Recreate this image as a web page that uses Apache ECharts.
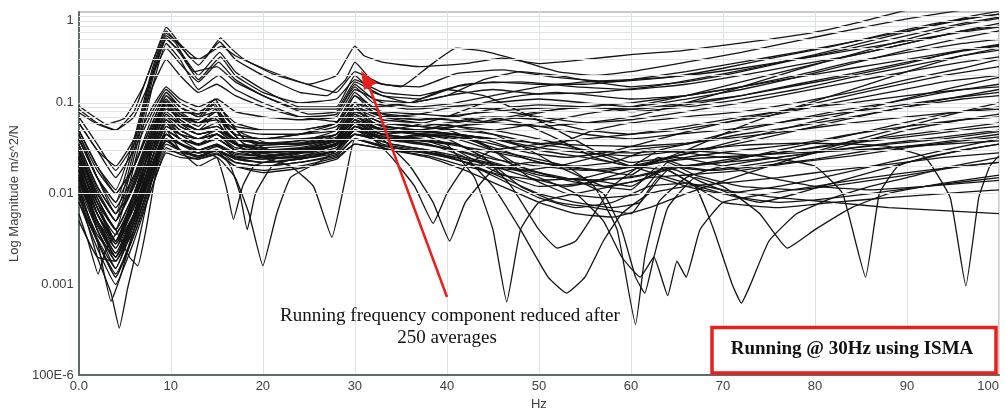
<!DOCTYPE html>
<html>
<head>
<meta charset="utf-8">
<title>FRF overlay - running @ 30Hz</title>
<script src="https://cdn.jsdelivr.net/npm/echarts@6/dist/echarts.min.js"></script>
<style>
  html, body { margin: 0; padding: 0; background: #fff; }
  #chart { width: 1005px; height: 416px; }
</style>
</head>
<body>
<div id="chart"></div>
<script>
// axis ticks
const xTickLabels = ['0.0', '10', '20', '30', '40', '50', '60', '70', '80', '90', '100'];
const yTickValues = [1e-4, 1e-3, 1e-2, 1e-1, 1];
const yTickLabels = ['100E-6', '0.001', '0.01', '0.1', '1'];
// light horizontal grid (1..9 per decade)
const yGridLines = [
  2e-4, 3e-4, 4e-4, 5e-4, 6e-4, 7e-4, 8e-4, 9e-4, 1e-3,
  2e-3, 3e-3, 4e-3, 5e-3, 6e-3, 7e-3, 8e-3, 9e-3, 1e-2,
  2e-2, 3e-2, 4e-2, 5e-2, 6e-2, 7e-2, 8e-2, 9e-2, 1e-1,
  0.2, 0.3, 0.4, 0.5, 0.6, 0.7, 0.8, 0.9
];

// FRF curves: [Hz, magnitude]
// top group (big peaks at 9.5 / 15 / 30 Hz)
const frf01 = [[0,.092],[1.5,.072],[3,.058],[5,.068],[7,.15],[8.5,.38],[9.5,.68],[10.5,.52],[12,.32],[13.5,.3],[15.4,.52],[16.5,.4],[18,.3],[21,.21],[25,.16],[28,.2],[30,.42],[31,.33],[33,.28],[37,.25],[42,.27],[46,.31],[50,.27],[55,.3],[60,.34],[65,.37],[70,.43],[75,.5],[80,.6],[85,.78],[90,1.05],[95,1.2],[100,1.3]];
const frf02 = [[0,.078],[2,.058],[4,.05],[6,.08],[8,.28],[9.5,.62],[11,.42],[13,.26],[15.3,.47],[17,.3],[20,.2],[24,.13],[27,.12],[29,.18],[30,.28],[32,.17],[35,.15],[38,.25],[41,.4],[44,.37],[48,.29],[52,.22],[56,.2],[60,.22],[66,.28],[72,.36],[78,.48],[84,.64],[90,.84],[96,1.05],[100,1.2]];
const frf03 = [[0,.05],[2,.02],[4,.011],[6,.04],[8,.24],[9.5,.58],[11,.44],[13,.3],[15.5,.42],[17,.33],[20,.24],[24,.17],[28,.13],[30,.22],[33,.16],[37,.15],[41,.21],[46,.23],[52,.19],[58,.17],[64,.19],[70,.24],[76,.32],[82,.42],[88,.58],[94,.78],[100,.95]];
const frf04 = [[0,.035],[2,.012],[4,.006],[6,.03],[8,.2],[9.5,.5],[11,.37],[13,.2],[15.3,.36],[17,.22],[20,.14],[24,.09],[28,.09],[30,.2],[32,.13],[36,.1],[40,.12],[45,.14],[50,.125],[56,.13],[62,.15],[68,.19],[74,.25],[80,.34],[86,.48],[92,.68],[97,.9],[100,1.02]];
const frf05 = [[0,.04],[2,.015],[4,.008],[6,.035],[8,.22],[9.5,.55],[10.5,.46],[12.5,.22],[15,.25],[17,.17],[20,.12],[25,.075],[28,.08],[30,.15],[32,.1],[36,.085],[40,.09],[45,.1],[50,.11],[55,.1],[60,.09],[66,.11],[72,.14],[78,.19],[84,.27],[90,.38],[96,.52],[100,.62]];
const frf06 = [[0,.03],[2,.009],[4,.004],[6,.02],[8,.15],[9.5,.45],[11,.3],[13,.14],[15.2,.2],[17,.14],[20,.1],[24,.07],[28,.062],[30,.12],[33,.075],[37,.065],[42,.075],[48,.085],[54,.09],[60,.085],[66,.1],[72,.12],[78,.155],[84,.2],[90,.27],[95,.36],[100,.44]];
const frf07 = [[0,.028],[2,.01],[4,.005],[6,.025],[8,.18],[9.5,.52],[11,.35],[13,.18],[15.4,.32],[17,.2],[20,.13],[24,.1],[28,.11],[30,.18],[33,.13],[37,.12],[42,.16],[48,.17],[54,.15],[60,.14],[66,.16],[72,.2],[78,.26],[84,.33],[90,.45],[96,.62],[100,.75]];
const frf08 = [[0,.06],[2,.03],[4,.02],[6,.04],[8,.15],[9.5,.3],[11,.2],[13,.13],[15,.16],[17,.12],[20,.09],[24,.07],[28,.075],[30,.16],[32,.11],[36,.1],[40,.12],[44,.18],[48,.22],[52,.2],[56,.17],[60,.15],[66,.17],[72,.22],[78,.3],[84,.4],[90,.55],[96,.75],[100,.88]];
const frf52 = [[0,.085],[2,.06],[4,.05],[6,.07],[8,.2],[9.5,.4],[11,.27],[13,.17],[15.2,.28],[17,.18],[20,.12],[24,.085],[28,.085],[30,.17],[33,.12],[37,.11],[41,.15],[45,.17],[50,.16],[55,.16],[60,.18],[66,.22],[72,.28],[78,.36],[84,.47],[90,.62],[96,.82],[100,.95]];
// middle group (peaks ~0.1, sharp 15 Hz spike)
const frf09 = [[0,.025],[2,.006],[4,.0025],[6,.008],[8,.04],[9.5,.12],[11,.09],[13,.07],[14.7,.1],[16,.06],[18,.045],[21,.035],[25,.035],[28,.045],[30,.1],[32,.06],[36,.05],[40,.045],[44,.04],[48,.03],[52,.035],[56,.05],[60,.06],[66,.07],[72,.08],[78,.1],[84,.13],[90,.18],[96,.24],[100,.3]];
const frf10 = [[0,.02],[2,.005],[4,.002],[6,.006],[8,.035],[9.5,.1],[11,.08],[13,.075],[14.8,.11],[16,.07],[18,.04],[21,.03],[25,.032],[28,.04],[30,.09],[32,.055],[36,.048],[40,.05],[44,.035],[48,.02],[52,.015],[56,.014],[60,.012],[64,.02],[68,.018],[72,.02],[78,.025],[84,.035],[90,.05],[96,.065],[100,.075]];
const frf11 = [[0,.015],[2,.004],[4,.0015],[6,.005],[8,.03],[9.5,.085],[11,.07],[13,.065],[14.6,.095],[16,.055],[18,.035],[21,.03],[25,.028],[28,.035],[30,.075],[32,.05],[36,.046],[40,.04],[44,.025],[48,.012],[52,.008],[56,.007],[60,.006],[63,.015],[66,.012],[70,.01],[76,.012],[82,.016],[88,.022],[94,.03],[100,.04]];
const frf12 = [[0,.045],[2,.015],[4,.006],[6,.012],[8,.05],[9.5,.11],[11,.075],[13,.06],[15,.08],[16.5,.05],[18,.035],[20,.03],[24,.032],[28,.04],[30,.07],[33,.05],[36,.055],[40,.07],[44,.1],[48,.12],[52,.13],[56,.12],[60,.11],[66,.12],[72,.15],[78,.2],[84,.28],[90,.36],[96,.45],[100,.5]];
const frf13 = [[0,.03],[2,.008],[4,.003],[6,.01],[8,.045],[9.5,.095],[11,.07],[13,.055],[14.8,.085],[16,.05],[18,.03],[21,.027],[25,.03],[28,.036],[30,.06],[33,.045],[37,.05],[41,.06],[45,.07],[50,.065],[55,.05],[60,.045],[65,.05],[70,.06],[76,.075],[82,.1],[88,.13],[94,.17],[100,.2]];
const frf14 = [[0,.012],[2,.003],[4,.0012],[6,.004],[8,.025],[9.5,.07],[11,.06],[13,.05],[14.7,.07],[16,.045],[18,.03],[21,.025],[25,.025],[28,.03],[30,.065],[32,.045],[36,.04],[40,.035],[44,.03],[48,.025],[52,.02],[56,.018],[60,.016],[63,.025],[66,.02],[70,.022],[76,.03],[82,.04],[88,.055],[94,.075],[100,.09]];
const frf15 = [[0,.06],[2,.03],[4,.015],[6,.03],[8,.08],[9.5,.14],[11,.1],[13,.08],[15,.1],[16.5,.06],[18,.04],[21,.035],[25,.04],[28,.05],[30,.12],[32,.08],[36,.07],[40,.065],[44,.06],[48,.07],[52,.085],[56,.09],[60,.08],[66,.09],[72,.11],[78,.14],[84,.19],[90,.25],[96,.33],[100,.38]];
const frf16 = [[0,.022],[2,.007],[4,.003],[6,.009],[8,.04],[9.5,.09],[11,.065],[13,.05],[15,.06],[17,.035],[20,.025],[24,.024],[28,.03],[30,.055],[33,.04],[37,.042],[41,.045],[45,.03],[49,.015],[53,.01],[57,.009],[61,.01],[64,.022],[67,.016],[72,.012],[78,.011],[84,.013],[90,.016],[96,.02],[100,.022]];
// low band
const frf17 = [[0,.018],[2,.004],[4,.0018],[6,.004],[8,.015],[9.5,.04],[11,.035],[13,.03],[15,.035],[17,.025],[20,.022],[24,.024],[28,.03],[30,.05],[33,.04],[37,.038],[41,.035],[45,.025],[49,.018],[53,.014],[57,.012],[61,.014],[65,.02],[69,.018],[74,.02],[80,.024],[86,.03],[92,.035],[100,.045]];
const frf18 = [[0,.01],[2,.0035],[4,.002],[6,.005],[8,.02],[9.5,.05],[11,.04],[13,.035],[15,.04],[17,.03],[20,.028],[24,.03],[28,.035],[30,.045],[34,.04],[38,.045],[42,.04],[46,.03],[50,.022],[54,.02],[58,.022],[62,.03],[66,.028],[70,.025],[76,.028],[82,.035],[88,.042],[94,.05],[100,.06]];
const frf19 = [[0,.008],[2,.003],[4,.0013],[6,.0035],[8,.012],[9.5,.03],[11,.028],[13,.026],[15,.03],[17,.022],[20,.02],[24,.022],[28,.027],[30,.04],[34,.03],[38,.028],[42,.022],[46,.015],[50,.01],[54,.008],[58,.007],[61,.008],[64,.018],[67,.012],[70,.008],[76,.007],[82,.008],[88,.009],[94,.01],[100,.011]];
const frf20 = [[0,.014],[2,.005],[4,.0028],[6,.006],[8,.02],[9.5,.045],[11,.035],[13,.028],[15,.033],[17,.026],[20,.024],[24,.026],[28,.032],[30,.055],[33,.045],[37,.05],[41,.055],[45,.06],[50,.055],[55,.045],[60,.04],[65,.045],[70,.05],[76,.06],[82,.075],[88,.09],[94,.11],[100,.13]];
// curves with sharp anti-resonances
const frf21 = [[0,.016],[2,.005],[4,.0025],[6,.006],[8,.02],[9.5,.05],[11,.03],[13,.02],[15,.025],[17,.015],[18.5,.006],[20,.0016],[21.5,.006],[23,.015],[26,.022],[28,.03],[30,.05],[33,.035],[37,.03],[41,.025],[45,.02],[49,.015],[53,.012],[57,.014],[61,.016],[65,.02],[70,.022],[76,.025],[82,.03],[88,.035],[94,.04],[100,.048]];
const frf22 = [[0,.02],[2,.006],[4,.003],[6,.008],[8,.03],[9.5,.07],[11,.05],[13,.04],[15,.045],[17,.03],[20,.025],[23,.02],[25.5,.012],[27.5,.0033],[29,.015],[30,.04],[32,.035],[36,.03],[40,.025],[44,.02],[48,.018],[52,.02],[56,.025],[60,.03],[66,.035],[72,.045],[78,.055],[84,.07],[90,.09],[96,.11],[100,.12]];
const frf23 = [[0,.035],[2,.012],[4,.006],[6,.015],[8,.05],[9.5,.1],[11,.06],[13,.045],[15,.05],[17,.035],[20,.03],[24,.03],[28,.035],[30,.06],[33,.04],[36,.02],[38.5,.008],[40.3,.003],[42,.008],[45,.018],[49,.022],[53,.02],[57,.018],[61,.02],[66,.025],[72,.03],[78,.035],[84,.045],[90,.055],[96,.065],[100,.07]];
const frf24 = [[0,.012],[2,.004],[4,.0018],[6,.005],[8,.018],[9.5,.04],[11,.03],[13,.025],[15,.03],[17,.025],[20,.025],[24,.028],[28,.035],[30,.06],[33,.05],[37,.045],[40,.035],[43,.015],[45,.004],[46.5,.00064],[48,.004],[50,.008],[54,.01],[58,.012],[62,.015],[66,.016],[72,.018],[78,.022],[84,.026],[90,.032],[96,.038],[100,.042]];
const frf25 = [[0,.01],[2,.002],[3.5,.0008],[4.4,.00033],[5.3,.0009],[6.5,.003],[8,.015],[9.5,.035],[11,.03],[13,.028],[15,.03],[17,.025],[20,.024],[24,.026],[28,.03],[30,.05],[34,.04],[38,.035],[42,.025],[45,.012],[48,.004],[51,.0012],[53,.0008],[55,.0012],[57,.003],[59,.006],[62,.01],[66,.012],[70,.013],[76,.015],[82,.018],[88,.021],[94,.025],[100,.028]];
const frf26 = [[0,.024],[2,.007],[4,.0035],[6,.009],[8,.03],[9.5,.06],[11,.045],[13,.035],[15,.04],[17,.03],[20,.028],[24,.03],[28,.038],[30,.07],[33,.05],[37,.045],[41,.04],[45,.03],[49,.025],[53,.02],[56,.012],[58.5,.004],[60.5,.00036],[61.5,.002],[63,.008],[66,.015],[70,.02],[76,.025],[82,.03],[88,.036],[94,.042],[100,.05]];
const frf27 = [[0,.011],[2,.003],[3.5,.00065],[4.5,.0012],[6,.004],[8,.016],[9.5,.038],[11,.03],[13,.026],[15,.03],[17,.024],[20,.022],[24,.024],[28,.028],[30,.045],[34,.035],[38,.03],[42,.025],[46,.02],[50,.015],[54,.01],[57,.005],[59,.002],[61,.0012],[62.5,.002],[64,.00075],[65,.0018],[66,.0012],[67.5,.004],[70,.008],[75,.01],[80,.012],[86,.015],[92,.018],[100,.022]];
const frf28 = [[0,.03],[2,.01],[4,.005],[6,.012],[8,.04],[9.5,.08],[11,.06],[13,.05],[15,.055],[17,.04],[20,.035],[24,.035],[28,.04],[30,.07],[33,.055],[37,.05],[41,.045],[45,.04],[50,.03],[55,.025],[60,.02],[64,.018],[67,.012],[69,.004],[71,.001],[72,.00062],[73,.001],[75,.003],[78,.006],[82,.009],[86,.012],[90,.015],[95,.02],[100,.025]];
const frf29 = [[0,.04],[2,.015],[4,.008],[6,.02],[8,.06],[9.5,.12],[11,.08],[13,.06],[15,.065],[17,.045],[20,.04],[24,.04],[28,.045],[30,.08],[33,.06],[37,.055],[41,.05],[45,.045],[50,.035],[55,.03],[60,.028],[65,.03],[70,.028],[75,.025],[80,.02],[83,.01],[85.5,.0012],[87,.01],[89,.02],[92,.025],[96,.03],[100,.035]];
const frf30 = [[0,.032],[2,.011],[4,.005],[6,.013],[8,.045],[9.5,.09],[11,.065],[13,.05],[15,.055],[17,.04],[20,.036],[24,.036],[28,.042],[30,.075],[33,.055],[37,.05],[41,.045],[45,.04],[50,.032],[55,.028],[60,.026],[66,.03],[72,.034],[78,.036],[84,.035],[88,.033],[92,.025],[94.7,.009],[96.4,.00096],[97.8,.009],[99,.02],[100,.026]];
// curves climbing towards the top right
const frf31 = [[0,.02],[2,.006],[4,.003],[6,.008],[8,.03],[9.5,.065],[11,.05],[13,.04],[15,.045],[17,.032],[20,.03],[24,.03],[28,.036],[30,.06],[33,.045],[37,.04],[41,.03],[45,.018],[50,.012],[55,.013],[60,.018],[66,.03],[72,.055],[78,.09],[84,.14],[90,.22],[96,.33],[100,.4]];
const frf32 = [[0,.045],[2,.018],[4,.01],[6,.02],[8,.06],[9.5,.13],[11,.09],[13,.07],[15,.08],[17,.055],[20,.05],[24,.05],[28,.06],[30,.1],[33,.08],[37,.075],[41,.07],[45,.06],[50,.055],[55,.06],[60,.07],[66,.1],[72,.15],[78,.23],[84,.34],[90,.5],[96,.72],[100,.85]];
const frf33 = [[0,.008],[2,.0025],[4,.001],[6,.003],[8,.012],[9.5,.028],[11,.025],[13,.024],[15,.027],[17,.02],[20,.018],[24,.02],[28,.025],[30,.035],[34,.03],[38,.025],[42,.018],[46,.012],[50,.008],[54,.006],[58,.0055],[62,.007],[66,.01],[72,.016],[78,.025],[84,.038],[90,.055],[96,.08],[100,.1]];
const frf34 = [[0,.016],[2,.006],[4,.003],[6,.007],[8,.025],[9.5,.055],[11,.045],[13,.04],[15,.05],[17,.04],[20,.04],[24,.045],[28,.055],[30,.09],[33,.07],[37,.065],[41,.07],[45,.085],[50,.095],[55,.09],[60,.085],[66,.095],[72,.12],[78,.16],[84,.21],[90,.28],[96,.37],[100,.42]];
const frf35 = [[0,.013],[2,.0045],[4,.002],[6,.0055],[8,.02],[9.5,.045],[11,.036],[13,.03],[15,.034],[17,.027],[20,.026],[24,.028],[28,.034],[30,.06],[33,.05],[37,.048],[41,.045],[45,.04],[50,.036],[55,.034],[60,.033],[66,.036],[72,.042],[78,.05],[84,.06],[90,.07],[96,.08],[100,.085]];
const frf36 = [[0,.025],[2,.008],[4,.004],[6,.01],[8,.035],[9.5,.075],[11,.055],[13,.045],[15,.05],[17,.035],[20,.032],[24,.034],[28,.04],[30,.08],[33,.06],[37,.055],[41,.05],[45,.05],[50,.06],[55,.075],[60,.09],[66,.12],[72,.17],[78,.24],[84,.33],[90,.45],[96,.62],[100,.7]];
const frf37 = [[0,.018],[2,.005],[4,.0022],[6,.006],[8,.025],[9.5,.06],[11,.04],[13,.03],[15,.025],[16,.012],[16.8,.0052],[17.8,.012],[19,.02],[22,.025],[26,.03],[29,.04],[30,.055],[33,.04],[37,.035],[41,.03],[45,.022],[50,.016],[55,.014],[60,.015],[66,.02],[72,.025],[78,.03],[84,.036],[90,.042],[96,.05],[100,.055]];
const frf38 = [[0,.01],[2,.0032],[4,.0015],[6,.0045],[8,.018],[9.5,.045],[11,.035],[13,.028],[15,.03],[16.5,.02],[17.5,.01],[18.3,.004],[19.2,.01],[21,.02],[24,.025],[28,.03],[30,.05],[33,.04],[37,.036],[41,.03],[45,.024],[50,.02],[55,.018],[60,.02],[66,.024],[72,.026],[78,.028],[84,.03],[90,.033],[96,.036],[100,.038]];
const frf39 = [[0,.022],[2,.007],[4,.003],[6,.008],[8,.03],[9.5,.065],[11,.045],[13,.035],[15,.04],[17,.03],[20,.028],[24,.03],[28,.035],[30,.06],[32,.04],[34,.025],[36.5,.012],[38.5,.0047],[40,.01],[42,.02],[45,.03],[50,.035],[55,.04],[60,.045],[66,.055],[72,.07],[78,.085],[84,.1],[90,.12],[96,.14],[100,.15]];
const frf40 = [[0,.014],[2,.0045],[4,.002],[6,.005],[8,.02],[9.5,.045],[11,.035],[13,.03],[15,.035],[17,.028],[20,.026],[24,.028],[28,.034],[30,.055],[33,.045],[37,.04],[41,.035],[44,.025],[47,.012],[50,.004],[52,.0025],[54,.003],[56,.006],[58,.012],[61,.02],[65,.025],[70,.02],[75,.015],[80,.012],[86,.011],[92,.012],[100,.014]];
const frf41 = [[0,.009],[2,.003],[4,.0012],[6,.0035],[8,.014],[9.5,.032],[11,.027],[13,.024],[15,.027],[17,.022],[20,.02],[24,.022],[28,.026],[30,.04],[34,.032],[38,.028],[42,.024],[46,.02],[50,.017],[54,.014],[57,.01],[59,.004],[60.5,.0012],[61.5,.0008],[62.5,.002],[64,.007],[67,.015],[70,.012],[74,.006],[77,.0025],[80,.004],[84,.007],[88,.01],[94,.013],[100,.016]];
const frf42 = [[0,.005],[2,.002],[4,.0018],[6,.005],[8,.017],[9.5,.038],[11,.03],[13,.026],[15,.03],[17,.024],[20,.022],[24,.024],[28,.03],[30,.045],[34,.035],[38,.03],[42,.022],[46,.014],[50,.009],[54,.007],[58,.008],[62,.012],[66,.013],[70,.011],[76,.009],[82,.008],[88,.007],[94,.0065],[100,.006]];
const frf43 = [[0,.006],[1,.003],[2.1,.0013],[3,.0025],[5,.005],[7,.012],[8.5,.025],[9.5,.04],[11,.03],[13,.025],[15,.028],[17,.02],[20,.017],[24,.019],[28,.024],[30,.035],[34,.03],[38,.026],[42,.02],[46,.016],[50,.014],[55,.015],[60,.02],[65,.026],[70,.035],[76,.05],[82,.07],[88,.1],[94,.14],[100,.19]];
const frf44 = [[0,.02],[2,.008],[4,.004],[5.5,.002],[6.4,.0016],[7.3,.004],[8.5,.02],[9.5,.05],[11,.04],[13,.035],[15,.045],[17,.035],[20,.03],[24,.03],[28,.035],[30,.05],[33,.04],[37,.045],[41,.055],[45,.065],[50,.08],[55,.09],[60,.1],[66,.12],[72,.15],[78,.19],[84,.24],[90,.3],[96,.38],[100,.43]];
// curves falling through the 40..70 Hz band
const frf45 = [[0,.03],[2,.01],[4,.005],[6,.014],[8,.05],[9.5,.1],[11,.07],[13,.06],[15,.07],[17,.045],[20,.04],[24,.045],[28,.06],[30,.13],[32,.09],[36,.1],[40,.14],[44,.12],[48,.08],[52,.05],[56,.03],[60,.022],[64,.025],[68,.03],[74,.04],[80,.055],[86,.075],[92,.1],[100,.14]];
const frf46 = [[0,.05],[2,.02],[4,.01],[6,.02],[8,.07],[9.5,.13],[11,.09],[13,.075],[15,.09],[17,.06],[20,.05],[24,.05],[28,.06],[30,.1],[33,.07],[37,.06],[41,.055],[45,.05],[50,.04],[55,.03],[60,.02],[65,.014],[70,.01],[74,.008],[78,.01],[84,.015],[90,.022],[96,.03],[100,.035]];
const frf47 = [[0,.018],[2,.006],[4,.0028],[6,.007],[8,.025],[9.5,.055],[11,.045],[13,.04],[15,.045],[17,.035],[20,.034],[24,.036],[28,.045],[30,.08],[33,.06],[37,.055],[40,.06],[44,.07],[48,.06],[52,.04],[56,.025],[60,.02],[63,.03],[66,.035],[70,.045],[76,.06],[82,.08],[88,.1],[94,.13],[100,.16]];
const frf48 = [[0,.07],[2,.035],[4,.018],[6,.035],[8,.09],[9.5,.15],[11,.11],[13,.09],[15,.11],[17,.08],[20,.07],[24,.065],[28,.07],[30,.14],[33,.1],[37,.09],[41,.1],[45,.12],[50,.15],[55,.17],[60,.18],[66,.2],[72,.24],[78,.3],[84,.38],[90,.48],[96,.6],[100,.68]];
const frf49 = [[0,.026],[2,.009],[4,.004],[6,.01],[8,.035],[9.5,.075],[11,.055],[13,.045],[15,.05],[17,.04],[20,.036],[24,.038],[28,.045],[30,.085],[33,.065],[37,.06],[41,.055],[45,.045],[49,.03],[53,.018],[57,.012],[60,.011],[63,.02],[65,.018],[68,.013],[72,.009],[76,.008],[80,.0085],[86,.01],[92,.012],[100,.015]];
const frf50 = [[0,.04],[2,.015],[4,.007],[6,.016],[8,.055],[9.5,.105],[11,.075],[13,.06],[15,.07],[17,.05],[20,.045],[24,.045],[28,.05],[30,.09],[33,.07],[37,.075],[41,.09],[45,.085],[50,.07],[55,.06],[60,.065],[66,.08],[72,.1],[78,.13],[84,.17],[90,.22],[96,.28],[100,.32]];
const frf51 = [[0,.015],[2,.005],[4,.0022],[6,.006],[8,.022],[9.5,.05],[11,.04],[13,.034],[15,.04],[17,.03],[20,.029],[24,.031],[28,.038],[30,.065],[33,.05],[37,.046],[41,.042],[45,.035],[49,.028],[53,.025],[57,.028],[61,.035],[65,.045],[70,.06],[76,.08],[82,.11],[88,.15],[94,.2],[100,.25]];

const curves = [frf01, frf02, frf03, frf04, frf05, frf06, frf07, frf08, frf09, frf10, frf11,
  frf12, frf13, frf14, frf15, frf16, frf17, frf18, frf19, frf20, frf21, frf22, frf23, frf24,
  frf25, frf26, frf27, frf28, frf29, frf30, frf31, frf32, frf33, frf34, frf35, frf36, frf37,
  frf38, frf39, frf40, frf41, frf42, frf43, frf44, frf45, frf46, frf47, frf48, frf49, frf50,
  frf51, frf52];

const chart = echarts.init(document.getElementById('chart'));

const axisFont = { color: '#404040', fontSize: 13, fontFamily: 'Liberation Sans, Arial, sans-serif' };
const red = '#e8201c';

// grid lines drawn as mark lines so they sit on 2,3..9 of every decade
const gridSeries = {
  type: 'line',
  data: [],
  silent: true,
  z: 1,
  animation: false,
  markLine: {
    silent: true,
    symbol: ['none', 'none'],
    label: { show: false },
    lineStyle: { color: '#dfe3e5', width: 1, type: 'solid' },
    emphasis: { disabled: true },
    animation: false,
    data: yGridLines.map(v => ({ yAxis: v }))
  }
};

const curveSeries = curves.map((c, i) => ({
  type: 'line',
  name: 'FRF ' + (i + 1),
  data: c,
  symbol: 'none',
  showSymbol: false,
  smooth: 0.12,
  silent: true,
  animation: false,
  z: 2,
  lineStyle: { color: '#141414', width: 1.3 }
}));

const option = {
  backgroundColor: '#fff',
  animation: false,
  grid: {
    left: 78, right: 6, top: 12, bottom: 35,
    show: true, borderColor: '#8a9696', borderWidth: 1, backgroundColor: 'transparent'
  },
  xAxis: {
    type: 'value',
    min: 0, max: 100, interval: 10,
    name: 'Hz',
    nameLocation: 'middle',
    nameGap: 22,
    nameTextStyle: axisFont,
    axisLine: { show: true, onZero: false, lineStyle: { color: '#5f6b6b', width: 2 } },
    axisTick: { show: false },
    axisLabel: Object.assign({}, axisFont, {
      margin: 5,
      alignMaxLabel: 'right',
      formatter: v => xTickLabels[Math.round(v / 10)]
    }),
    splitLine: { show: true, lineStyle: { color: '#dfe3e5', width: 1 } }
  },
  yAxis: {
    type: 'log',
    logBase: 10,
    min: 1e-4, max: 1,
    splitNumber: 4,
    name: 'Log Magnitude m/s^2/N',
    nameLocation: 'middle',
    nameGap: 52,
    nameTextStyle: axisFont,
    axisLine: { show: true, lineStyle: { color: '#5f6b6b', width: 2 } },
    axisTick: { show: false },
    axisLabel: Object.assign({}, axisFont, {
      margin: 5,
      formatter: v => {
        const i = yTickValues.findIndex(t => Math.abs(Math.log10(t) - Math.log10(v)) < 1e-6);
        if (i < 0) return '';
        // top label sits a little below the frame, as in the original plot
        return i === yTickValues.length - 1 ? '{top|' + yTickLabels[i] + '}' : yTickLabels[i];
      },
      rich: {
        top: { padding: [16, 0, 0, 0], color: '#404040', fontSize: 13, fontFamily: 'Liberation Sans, Arial, sans-serif' }
      }
    }),
    splitLine: { show: false }
  },
  series: [gridSeries].concat(curveSeries),
  graphic: [
    // arrow pointing at the 30 Hz running component
    { type: 'line', z: 100, shape: { x1: 447, y1: 297, x2: 369, y2: 86 },
      style: { stroke: red, lineWidth: 2.5 } },
    { type: 'polygon', z: 100, shape: { points: [[361, 71], [377, 83], [364, 90]] },
      style: { fill: red } },
    { type: 'text', z: 100, x: 450, y: 316,
      style: { text: 'Running frequency component reduced after', font: '19px "Liberation Serif", "Times New Roman", serif',
        fill: '#111', textAlign: 'center', textVerticalAlign: 'middle' } },
    { type: 'text', z: 100, x: 447, y: 338,
      style: { text: '250 averages', font: '19px "Liberation Serif", "Times New Roman", serif',
        fill: '#111', textAlign: 'center', textVerticalAlign: 'middle' } },
    // boxed caption
    { type: 'rect', z: 100, shape: { x: 712, y: 327.5, width: 284, height: 45.5 },
      style: { fill: '#fff', stroke: red, lineWidth: 3.5 } },
    { type: 'text', z: 101, x: 852, y: 349,
      style: { text: 'Running @ 30Hz using ISMA', font: 'bold 19px "Liberation Serif", "Times New Roman", serif',
        fill: '#111', textAlign: 'center', textVerticalAlign: 'middle' } }
  ]
};

chart.setOption(option);
window.addEventListener('resize', chart.resize);
</script>
</body>
</html>
